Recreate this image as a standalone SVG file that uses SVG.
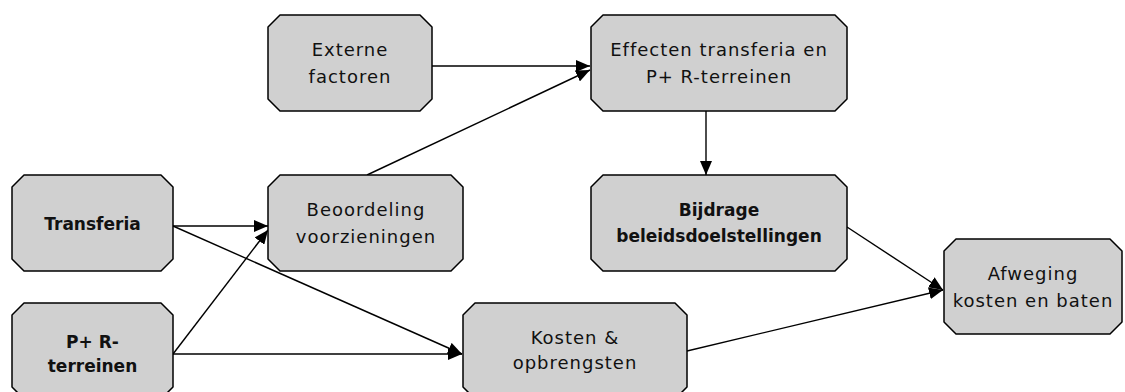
<svg xmlns="http://www.w3.org/2000/svg" width="1125" height="392" viewBox="0 0 1125 392">
<style>
.box{fill:#d0d0d0;stroke:#000;stroke-width:1.5;stroke-linejoin:round}
.t{font-family:"DejaVu Sans",sans-serif;font-size:18px;letter-spacing:1px;fill:#111;text-anchor:middle}
.b{font-family:"DejaVu Sans",sans-serif;font-size:17px;font-weight:bold;fill:#111;text-anchor:middle}
.c{fill:none;stroke:#000;stroke-width:1.4}
</style>
<defs>
<marker id="ah" markerUnits="userSpaceOnUse" markerWidth="16" markerHeight="12" refX="14" refY="6" orient="auto">
<path d="M0,0 L14,6 L0,12 z" fill="#000"/>
</marker>
</defs>
<rect width="1125" height="392" fill="#fff"/>
<g id="connectors">
<line class="c" x1="432" y1="66" x2="590" y2="66" marker-end="url(#ah)"/>
<line class="c" x1="367" y1="175" x2="590" y2="70" marker-end="url(#ah)"/>
<line class="c" x1="706" y1="111" x2="706" y2="175" marker-end="url(#ah)"/>
<line class="c" x1="173" y1="226" x2="268" y2="226" marker-end="url(#ah)"/>
<line class="c" x1="173" y1="354" x2="268" y2="230" marker-end="url(#ah)"/>
<line class="c" x1="173" y1="226" x2="462" y2="354" marker-end="url(#ah)"/>
<line class="c" x1="173" y1="354" x2="462" y2="354" marker-end="url(#ah)"/>
<line class="c" x1="847" y1="227" x2="943" y2="290" marker-end="url(#ah)"/>
<line class="c" x1="687" y1="351" x2="943" y2="290" marker-end="url(#ah)"/>
</g>
<g id="externe">
<path class="box" d="M280,15 H420 L432,27 V99 L420,111 H280 L268,99 V27 Z"/>
<text class="t" x="350" y="56">Externe</text>
<text class="t" x="350" y="83">factoren</text>
</g>
<g id="effecten">
<path class="box" d="M603,15 H835 L847,27 V99 L835,111 H603 L591,99 V27 Z"/>
<text class="t" x="719" y="56">Effecten transferia en</text>
<text class="t" x="719" y="83">P+ R-terreinen</text>
</g>
<g id="transferia">
<path class="box" d="M24,175 H161 L173,187 V259 L161,271 H24 L12,259 V187 Z"/>
<text class="b" x="92.5" y="230">Transferia</text>
</g>
<g id="beoordeling">
<path class="box" d="M280,175 H451 L463,187 V259 L451,271 H280 L268,259 V187 Z"/>
<text class="t" x="366" y="216">Beoordeling</text>
<text class="t" x="366" y="243">voorzieningen</text>
</g>
<g id="bijdrage">
<path class="box" d="M603,175 H835 L847,187 V259 L835,271 H603 L591,259 V187 Z"/>
<text class="b" x="719" y="216">Bijdrage</text>
<text class="b" x="719" y="242">beleidsdoelstellingen</text>
</g>
<g id="afweging">
<path class="box" d="M956,239 H1110 L1122,251 V322 L1110,334 H956 L944,322 V251 Z"/>
<text class="t" x="1033" y="280">Afweging</text>
<text class="t" x="1033" y="307">kosten en baten</text>
</g>
<g id="pr">
<path class="box" d="M24,303 H161 L173,315 V387 L161,399 H24 L12,387 V315 Z"/>
<text class="b" x="92.5" y="348">P+ R-</text>
<text class="b" x="92.5" y="372">terreinen</text>
</g>
<g id="kosten">
<path class="box" d="M475,303 H675 L687,315 V387 L675,399 H475 L463,387 V315 Z"/>
<text class="t" x="575" y="344">Kosten &amp;</text>
<text class="t" x="575" y="369">opbrengsten</text>
</g>
</svg>
